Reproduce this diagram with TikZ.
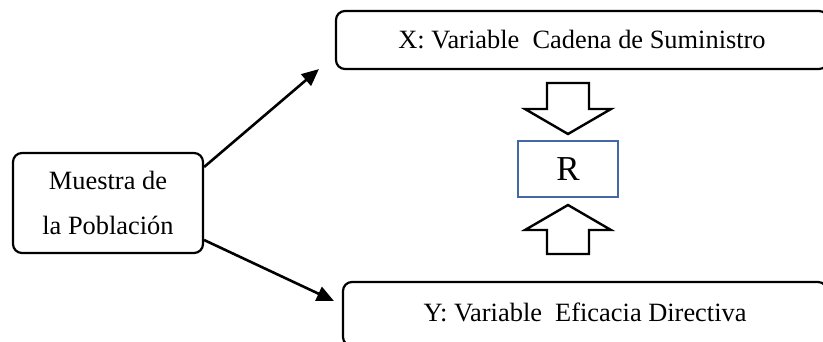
\documentclass[tikz,border=0pt]{standalone}
\usepackage{fontspec}
\setmainfont{Liberation Serif}
\usepackage{tikz}
\usetikzlibrary{arrows.meta}
\definecolor{rblue}{RGB}{68,104,164}

\begin{document}
\begin{tikzpicture}[x=1pt,y=-1pt]
\tikzstyle{varbox}=[draw=black,line width=2.2pt,rounded corners=9pt,inner sep=0pt,font=\fontsize{26.4}{32}\selectfont]
\tikzstyle{rbox}=[draw=rblue,line width=2pt,inner sep=0pt,minimum width=100pt,minimum height=56pt,font=\fontsize{35}{40}\selectfont]
\tikzstyle{lines}=[-{Triangle[length=17pt,width=15pt]},line width=2.6pt]
\tikzstyle{bigarrow}=[draw=black,fill=white,line width=2.4pt,line join=miter]

\clip (0,0) rectangle (823,341);
\node[varbox,minimum width=190pt,minimum height=100pt,align=center,font=\fontsize{26.4}{45}\selectfont] (pob) at (108,203) {Muestra de\\la Población};
\node[varbox,minimum width=492pt,minimum height=58pt] (varx) at (582,40) {X: Variable~ Cadena de Suministro};
\node[varbox,minimum width=484pt,minimum height=64pt,text depth=3pt] (vary) at (585,314) {Y: Variable~ Eficacia Directiva};
\node[rbox] (r) at (568,169) {R};

% flechas de bloque
\draw[bigarrow] (547,83) -- (589,83) -- (589,109) -- (611,109) -- (568,134) -- (525,109) -- (547,109) -- cycle;
\draw[bigarrow] (547,254) -- (589,254) -- (589,230) -- (611,230) -- (568,205) -- (525,230) -- (547,230) -- cycle;

\draw[lines] ([yshift=36pt]pob.east) -- ([xshift=-16pt,yshift=1pt]varx.south west);
\draw[lines] ([yshift=-37pt]pob.east) -- ([xshift=-8pt,yshift=-20pt]vary.north west);
\end{tikzpicture}
\end{document}
